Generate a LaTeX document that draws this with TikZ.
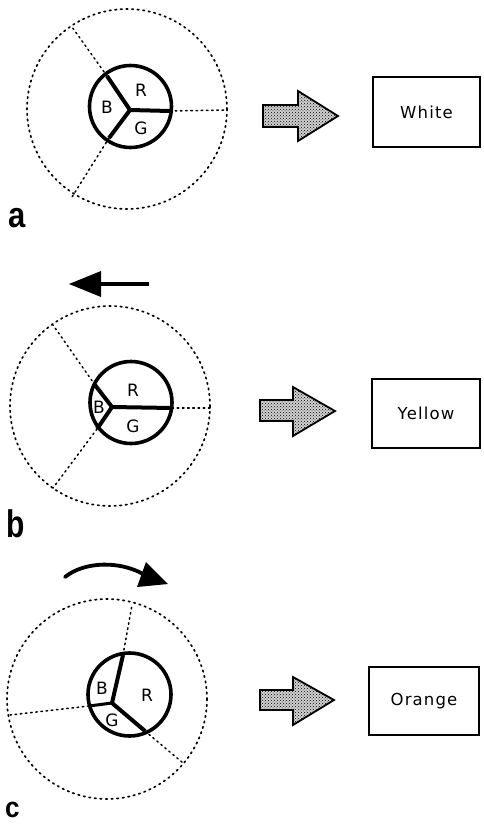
\documentclass[tikz,border=0pt]{standalone}
\usepackage{fontspec}
\usepackage{graphicx}
\setmainfont{DejaVu Sans}
\newfontfamily\labfont{Liberation Sans}
\usetikzlibrary{patterns}
\begin{document}
\begin{tikzpicture}[x=1pt,y=-1pt,
  outer/.style={line width=1.7pt, dash pattern=on 1.6pt off 4pt, line cap=round},
  ray/.style={line width=1.5pt, dash pattern=on 1.6pt off 3.6pt, line cap=round},
  inner/.style={line width=3.6pt},
  spoke/.style={line width=4pt},
  seg/.style={font=\fontsize{17}{17}\selectfont, inner sep=0pt},
  fat/.style={draw, line width=1.8pt, line join=miter, fill=black!18, postaction={pattern=crosshatch dots, pattern color=black}},
  box/.style={draw, line width=1.8pt, inner sep=0pt, font=\fontsize{16.5}{16.5}\selectfont\addfontfeature{LetterSpace=7}},
  panel/.style={font=\labfont\bfseries, inner sep=0pt, anchor=base west}]
\useasboundingbox (0,0) rectangle (483,825);

% ---------------- panel a ----------------
\draw[outer] (127,109) circle[radius=100];
\draw[inner] (130.5,106.5) circle[radius=41];
\coordinate (aJ) at (130,110);
\coordinate (aU) at (107,76);  \coordinate (aUo) at (72,27);
\coordinate (aR) at (170,111); \coordinate (aRo) at (227,110);
\coordinate (aD) at (109,138); \coordinate (aDo) at (72,197);
\draw[spoke] (aJ) -- (aU);
\draw[spoke] (aJ) -- (aR);
\draw[spoke] (aJ) -- (aD);
\draw[ray] (aU) -- (aUo);
\draw[ray] (aR) -- (aRo);
\draw[ray] (aD) -- (aDo);
\node[seg] (aRl) at (141,90) {R};
\node[seg] (aBl) at (107,107) {B};
\node[seg] (aGl) at (141,128) {G};
\draw[fat] (263,105) -- (298,105) -- (298,91) -- (338,116) -- (298,141) -- (298,127) -- (263,127) -- cycle;
\node[box, minimum width=107pt, minimum height=70pt] (aBox) at (426.5,112) {White};
\node[panel] (aLab) at (8,227) {\fontsize{31}{31}\selectfont\scalebox{1}[1.15]{a}};

% ---------------- panel b ----------------
\coordinate (bTip) at (69,284);
\coordinate (bTail) at (149,284);
\draw[line width=4.4pt] (bTail) -- (98,284);
\fill (bTip) -- (101,271) -- (101,297) -- cycle;
\draw[outer] (110,406) circle[radius=100];
\draw[inner] (131,402.5) circle[radius=41];
\coordinate (bJ) at (112,407);
\coordinate (bU) at (95,385);  \coordinate (bUo) at (53,325);
\coordinate (bR) at (172,408); \coordinate (bRo) at (211,408);
\coordinate (bD) at (97,429);  \coordinate (bDo) at (53,488);
\draw[spoke] (bJ) -- (bU);
\draw[spoke] (bJ) -- (bR);
\draw[spoke] (bJ) -- (bD);
\draw[ray] (bU) -- (bUo);
\draw[ray] (bR) -- (bRo);
\draw[ray] (bD) -- (bDo);
\node[seg] (bRl) at (133,390) {R};
\node[seg] (bBl) at (99,407) {B};
\node[seg] (bGl) at (133,426) {G};
\draw[fat] (260,400) -- (293,400) -- (293,387) -- (335,411) -- (293,436) -- (293,421) -- (260,421) -- cycle;
\node[box, minimum width=108pt, minimum height=69pt] (bBox) at (426,413.5) {Yellow};
\node[panel] (bLab) at (6,537) {\fontsize{30}{30}\selectfont\scalebox{1}[1.28]{b}};

% ---------------- panel c ----------------
\coordinate (cS) at (65,577);
\coordinate (cE) at (143,574);
\draw[line width=3.8pt, line cap=round] (cS) .. controls (85,561) and (120,561) .. (cE);
\fill (146,562) -- (168,584) -- (137,587) -- cycle;
\draw[outer] (107,699) circle[radius=100];
\draw[inner] (129.5,694.5) circle[radius=41.5];
\coordinate (cJ) at (112,703);
\coordinate (cU) at (123,655);  \coordinate (cUo) at (132,605);
\coordinate (cL) at (89,706);   \coordinate (cLo) at (10,715);
\coordinate (cD) at (145,731);  \coordinate (cDo) at (183,763);
\draw[spoke] (cJ) -- (cU);
\draw[spoke, line width=3pt] (cJ) -- (cL);
\draw[spoke] (cJ) -- (cD);
\draw[ray] (cU) -- (cUo);
\draw[ray] (cL) -- (cLo);
\draw[ray] (cD) -- (cDo);
\node[seg] (cBl) at (102,688) {B};
\node[seg] (cRl) at (147,695) {R};
\node[seg] (cGl) at (112,720) {G};
\draw[fat] (260,690) -- (293,690) -- (293,677) -- (334,700) -- (293,725) -- (293,710) -- (260,710) -- cycle;
\node[box, minimum width=110pt, minimum height=68pt] (cBox) at (424,701) {Orange};
\node[panel] (cLab) at (5,817) {\fontsize{26}{26}\selectfont\scalebox{1}[1.1]{c}};
\end{tikzpicture}
\end{document}
